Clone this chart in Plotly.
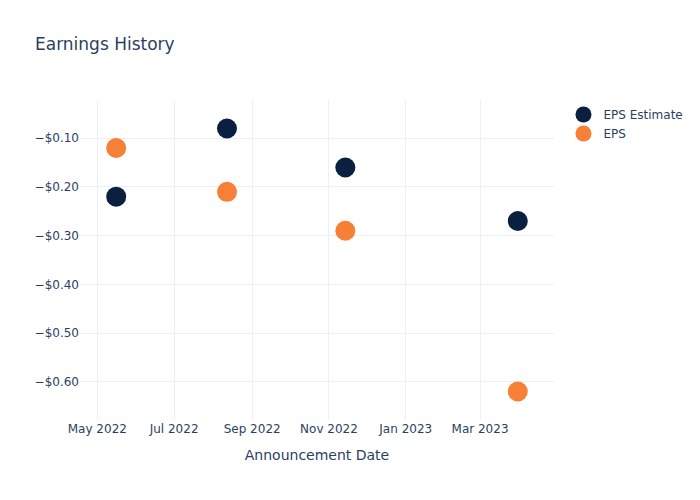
import plotly.graph_objects as go

dates = ["2022-05-16", "2022-08-12", "2022-11-14", "2023-03-31"]
eps_estimate = [-0.22, -0.08, -0.16, -0.27]
eps_actual = [-0.12, -0.21, -0.29, -0.62]

fig = go.Figure()
fig.add_trace(go.Scatter(x=dates, y=eps_estimate, mode="markers", name="EPS Estimate",
                         marker=dict(size=20, color="#0B1F40")))
fig.add_trace(go.Scatter(x=dates, y=eps_actual, mode="markers", name="EPS",
                         marker=dict(size=20, color="#F68136")))
fig.update_layout(
    template="plotly_white",
    width=700, height=500,
    title=dict(text="Earnings History"),
    font=dict(family="DejaVu Sans"),
    xaxis=dict(title=dict(text="Announcement Date"), dtick="M2", tickformat="%b %Y"),
    yaxis=dict(tickformat="$.2f", zeroline=False),
)
fig.write_html("out.html")
